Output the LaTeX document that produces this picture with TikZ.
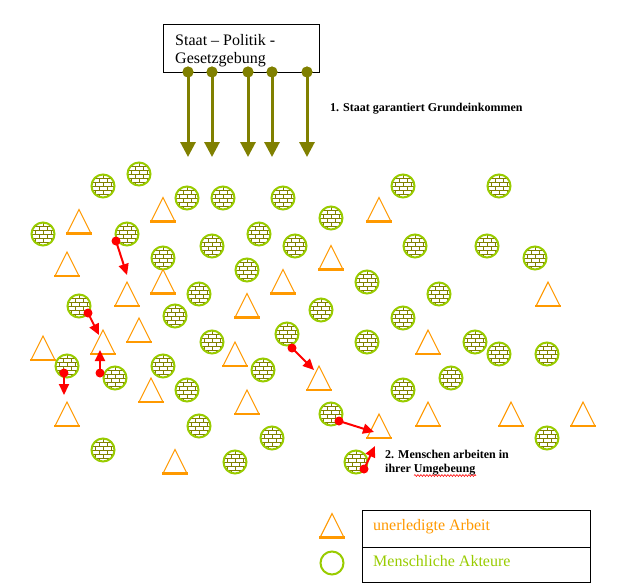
\documentclass[tikz,border=0pt]{standalone}
\usepackage{fontspec}
\setmainfont{Liberation Serif}
\usetikzlibrary{arrows.meta,decorations.pathmorphing}
\definecolor{tri}{HTML}{FF9900}
\definecolor{grn}{HTML}{99CC00}
\definecolor{olv}{HTML}{808000}
\definecolor{rd}{HTML}{FF0000}
\tikzset{
  person/.style={circle, draw=grn, line width=2pt, minimum size=23pt, inner sep=0pt, fill=white,
    path picture={
      \begin{scope}[shift={(path picture bounding box.center)}, draw=olv, line width=0.9pt]
        \foreach \r in {-3,...,3} {\draw (-14,\r*4) -- (14,\r*4);}
        \foreach \r in {-3,-1,1,3} {\foreach \c in {-8,0,8} {\draw (\c,\r*4) -- (\c,\r*4+4);}}
        \foreach \r in {-4,-2,0,2} {\foreach \c in {-12,-4,4,12} {\draw (\c,\r*4) -- (\c,\r*4+4);}}
      \end{scope}
    }},
  legcircle/.style={circle, draw=grn, line width=2pt, minimum size=23pt, inner sep=0pt},
  pics/task/.style={code={
    \draw[tri, line width=1.1pt, line join=miter] (-12,12) -- (0,-12) -- (12,12);
    \draw[tri, line width=2.6pt] (-12.6,12) -- (12.6,12);
    \coordinate (-c) at (0,0);
  }},
  act/.style={rd, line width=2pt, -{Triangle[length=11pt,width=10pt]}},
  actdot/.style={circle, fill=rd, inner sep=0pt, minimum size=9pt},
  govarrow/.style={olv, line width=3pt, -{Triangle[length=15pt,width=15pt]}},
  govdot/.style={circle, fill=olv, inner sep=0pt, minimum size=11pt},
  txt/.style={anchor=base west, inner sep=0pt},
  big/.style={font=\fontsize{16}{18}\selectfont},
  lab/.style={font=\bfseries\fontsize{12}{14}\selectfont},
  frame/.style={draw=black, line width=1pt, inner sep=0pt, anchor=north west}
}
\begin{document}
\begin{tikzpicture}[x=1pt, y=-1pt]
\fill[white] (0,0) rectangle (618,587);
\useasboundingbox (0,0) rectangle (618,587);

% government box
\node[frame, minimum width=156pt, minimum height=48pt] (govbox) at (163,24) {};
\node[txt, big] (gov1) at (175,45) {Staat – Politik -};
\node[txt, big] (gov2) at (175,63) {Gesetzgebung};

\foreach \i/\x in {1/188, 2/212, 3/248, 4/272, 5/307} {
  \node[govdot] (g\i) at (\x,72) {};
  \coordinate (h\i) at (\x,157);
  \draw[govarrow] (g\i.center) -- (h\i);
  \node[govdot] at (g\i) {};
}

\node[txt, lab] (lab1) at (330,111) {1. Staat garantiert Grundeinkommen};

% persons
\foreach \n/\x/\y in {
  1/139/174, 2/103/186, 3/187/198, 4/223/198, 5/283/198, 6/403/186, 7/499/186,
  8/331/218, 9/43/234, 10/127/234, 11/259/234, 12/212/246, 13/295/246, 14/415/246,
  15/487/246, 16/163/258, 17/535/258, 18/247/270, 19/367/282, 20/199/294, 21/439/294,
  22/79/306, 23/175/316, 24/321/310, 25/403/318, 26/287/334, 27/212/342, 28/367/342,
  29/475/342, 30/499/354, 31/547/354, 32/67/366, 33/163/366, 34/115/378, 35/263/370,
  36/451/378, 37/187/390, 38/403/390, 39/331/414, 40/199/426, 41/272/438, 42/547/438,
  43/103/450, 44/235/462, 45/356/462} {
  \node[person] (c\n) at (\x,\y) {};
}

% tasks
\foreach \n/\x/\y in {
  1/79/221.5, 2/163/209.5, 3/67/264, 4/163/281.5, 5/127/294, 6/379/209.5,
  7/331/257.5, 8/283/281.5, 9/247/305.5, 10/548/294, 11/139/330, 12/43/348,
  13/103/342, 14/151/390, 15/67/414, 16/175/461.5, 17/235/354, 18/319/378,
  19/247/402, 20/379/426, 21/428/342, 22/428/414, 23/511/414, 24/583/414} {
  \pic (t\n) at (\x,\y) {task};
}

% work arrows
\foreach \n/\xa/\ya/\xb/\yb in {
  1/116/241/127/275, 2/88/313/99/335, 3/100/373/100/350, 4/64/373/64/395,
  5/292/348/314/370, 6/339/421/374/432, 7/364/469/375/446} {
  \node[actdot] (d\n) at (\xa,\ya) {};
  \coordinate (e\n) at (\xb,\yb);
  \draw[act] (d\n.center) -- (e\n);
}

\node[txt, lab] (lab2a) at (385,458) {2. Menschen arbeiten in};
\node[txt, lab] (lab2b) at (385,472) {ihrer Umgebeung};
\coordinate (w1) at (414,475.5);
\coordinate (w2) at (476,475.5);
\draw[rd, line width=0.6pt, decorate, decoration={snake, segment length=3pt, amplitude=0.9pt}] (w1) -- (w2);

% legend
\pic (lt) at (332,525.5) {task};
\node[legcircle] (lc) at (332,563) {};
\node[frame, minimum width=228pt, minimum height=37pt] (leg1box) at (362,510) {};
\node[frame, minimum width=228pt, minimum height=35pt] (leg2box) at (362,547) {};
\node[txt, big, text=tri] (leg1) at (373,530) {unerledigte Arbeit};
\node[txt, big, text=grn] (leg2) at (373,566) {Menschliche Akteure};
\end{tikzpicture}
\end{document}
